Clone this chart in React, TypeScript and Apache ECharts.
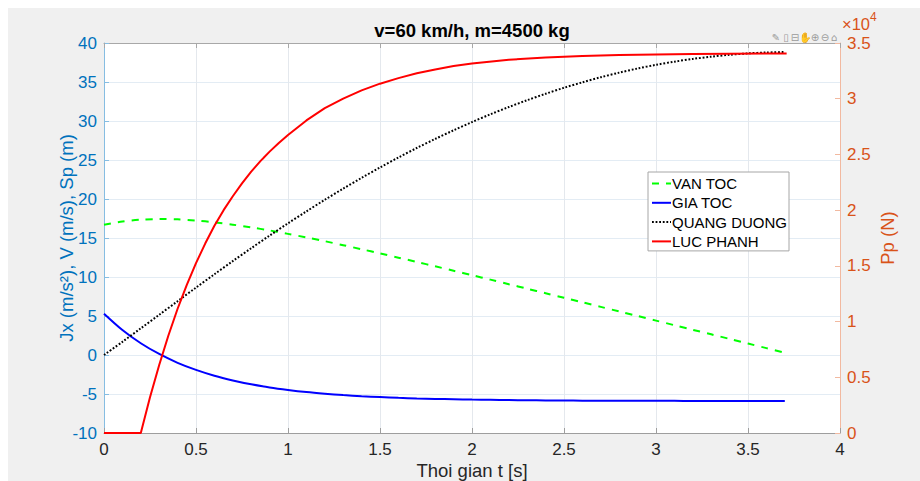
import React, { useEffect, useRef } from "react";
import * as echarts from "echarts";

// Time samples (s) for velocity, acceleration and distance
const T = [
  0, 0.1, 0.2, 0.3, 0.4, 0.5, 0.6, 0.7, 0.8, 0.9, 1.0, 1.1, 1.2, 1.3, 1.4, 1.5, 1.6, 1.7, 1.8, 1.9,
  2.0, 2.1, 2.2, 2.3, 2.4, 2.5, 2.6, 2.7, 2.8, 2.9, 3.0, 3.1, 3.2, 3.3, 3.4, 3.5, 3.6, 3.7,
];
// VAN TOC (m/s)
const V = [
  16.7, 17.12, 17.35, 17.43, 17.39, 17.24, 17.01, 16.71, 16.36, 15.97, 15.53, 15.07, 14.59, 14.08,
  13.56, 13.03, 12.48, 11.93, 11.37, 10.8, 10.23, 9.66, 9.08, 8.5, 7.92, 7.34, 6.76, 6.17, 5.58, 5.0,
  4.41, 3.82, 3.23, 2.65, 2.06, 1.47, 0.88, 0.29,
];
// GIA TOC (m/s^2)
const JX = [
  5.3, 3.21, 1.51, 0.13, -1.0, -1.91, -2.66, -3.26, -3.76, -4.16, -4.48, -4.75, -4.96, -5.14, -5.28,
  -5.39, -5.49, -5.57, -5.63, -5.68, -5.72, -5.75, -5.78, -5.8, -5.82, -5.84, -5.85, -5.86, -5.87,
  -5.87, -5.88, -5.88, -5.89, -5.89, -5.89, -5.9, -5.9, -5.9,
];
// QUANG DUONG (m)
const SP = [
  0, 1.69, 3.42, 5.16, 6.9, 8.64, 10.35, 12.04, 13.69, 15.31, 16.88, 18.41, 19.9, 21.33, 22.71, 24.04,
  25.32, 26.54, 27.7, 28.81, 29.86, 30.86, 31.79, 32.67, 33.49, 34.26, 34.96, 35.61, 36.2, 36.73, 37.2,
  37.61, 37.96, 38.25, 38.49, 38.67, 38.78, 38.84,
];
// LUC PHANH: its own time samples (s) and values (N)
const PT = [
  0, 0.2, 0.25, 0.3, 0.35, 0.4, 0.45, 0.5, 0.55, 0.6, 0.65, 0.7, 0.75, 0.8, 0.85, 0.9, 0.95, 1.0, 1.1,
  1.2, 1.3, 1.4, 1.5, 1.6, 1.7, 1.8, 1.9, 2.0, 2.2, 2.4, 2.6, 2.8, 3.0, 3.2, 3.4, 3.6, 3.71,
];
const PP = [
  0, 0, 3200, 6100, 8750, 11150, 13300, 15250, 17000, 18600, 20000, 21250, 22400, 23450, 24400, 25250,
  26030, 26750, 28050, 29150, 30000, 30750, 31350, 31850, 32280, 32630, 32930, 33170, 33500, 33700,
  33830, 33920, 33970, 34010, 34030, 34050, 34060,
];

const SERIES_NAMES = ["VAN TOC", "GIA TOC", "QUANG DUONG", "LUC PHANH"];
const TITLE = "v=60 km/h, m=4500 kg";
const X_NAME = "Thoi gian t [s]";
const Y_LEFT_NAME = "Jx (m/s²), V (m/s), Sp (m)";
const Y_RIGHT_NAME = "Pp (N)";

const FONT = '"Liberation Sans", Arial, Helvetica, sans-serif';
const BLUE_AX = "#0072BD";
const ORANGE_AX = "#D95319";

export default function App() {
  const ref = useRef<HTMLDivElement>(null);

  useEffect(() => {
    if (!ref.current) return;
    const chart = echarts.init(ref.current, undefined, { renderer: "svg" });
    const pair = (xs: number[], ys: number[]) => xs.map((t, i) => [t, ys[i]]);

    const icons = ["✎", "▯", "⊟", "✋", "⊕", "⊖", "⌂"];
    const iconX = [768, 778, 787, 797, 807, 817, 826];

    chart.setOption({
      animation: false,
      backgroundColor: "#f0f0f0",
      textStyle: { fontFamily: FONT },
      grid: {
        left: 96,
        top: 35,
        width: 736,
        height: 390,
        show: true,
        backgroundColor: "#ffffff",
        borderWidth: 0,
        outerBoundsMode: "none",
        containLabel: false,
      },
      legend: {
        data: SERIES_NAMES,
        orient: "vertical",
        left: 640,
        top: 164,
        itemWidth: 19,
        itemHeight: 10,
        itemGap: 4.3,
        padding: [4, 2, 2, 3],
        backgroundColor: "#ffffff",
        borderColor: "#a6a6a6",
        borderWidth: 1,
        borderRadius: 0,
        itemStyle: { opacity: 0 },
        textStyle: { fontSize: 15, color: "#000", fontFamily: FONT, padding: [0, 0, 0, -4] },
      },
      xAxis: [
        {
          type: "value",
          min: 0,
          max: 4,
          interval: 0.5,
          position: "bottom",
          name: X_NAME,
          nameLocation: "middle",
          nameGap: 28,
          nameMoveOverlap: false,
          nameTextStyle: { fontSize: 18.5, color: "#262626", fontFamily: FONT },
          axisLine: { show: true, onZero: false, lineStyle: { color: "#9e9e9e", width: 1 } },
          axisTick: { show: true, inside: true, length: 5, lineStyle: { color: "#9e9e9e" } },
          axisLabel: { color: "#262626", fontSize: 17, margin: 8, fontFamily: FONT },
          splitLine: { show: true, lineStyle: { color: "#e4e8ed", width: 1 } },
        },
        {
          type: "value",
          min: 0,
          max: 4,
          interval: 0.5,
          position: "top",
          axisLine: { show: true, onZero: false, lineStyle: { color: "#a8a8a8", width: 1 } },
          axisTick: { show: true, inside: true, length: 5, lineStyle: { color: "#a8a8a8" } },
          axisLabel: { show: false },
          splitLine: { show: false },
        },
      ],
      yAxis: [
        {
          type: "value",
          min: -10,
          max: 40,
          interval: 5,
          position: "left",
          name: Y_LEFT_NAME,
          nameLocation: "middle",
          nameGap: 28,
          nameRotate: 90,
          nameMoveOverlap: false,
          nameTextStyle: { fontSize: 18.5, color: BLUE_AX, fontFamily: FONT },
          axisLine: { show: true, onZero: false, lineStyle: { color: "#86bde2", width: 1 } },
          axisTick: { show: true, inside: true, length: 5, lineStyle: { color: "#86bde2" } },
          axisLabel: { color: BLUE_AX, fontSize: 17, margin: 7, fontFamily: FONT },
          splitLine: { show: true, lineStyle: { color: "#e3ecf4", width: 1 } },
        },
        {
          type: "value",
          min: 0,
          max: 35000,
          interval: 5000,
          position: "right",
          name: Y_RIGHT_NAME,
          nameLocation: "middle",
          nameGap: 38,
          nameRotate: 90,
          nameMoveOverlap: false,
          nameTextStyle: { fontSize: 18.5, color: ORANGE_AX, fontFamily: FONT },
          axisLine: { show: true, onZero: false, lineStyle: { color: "#f2b9a0", width: 1 } },
          axisTick: { show: true, inside: true, length: 5, lineStyle: { color: "#f2b9a0" } },
          axisLabel: {
            color: ORANGE_AX,
            fontSize: 17,
            margin: 7,
            fontFamily: FONT,
            formatter: (v: number) => String(v / 10000),
          },
          splitLine: { show: false },
        },
      ],
      series: [
        {
          name: SERIES_NAMES[0],
          type: "line",
          yAxisIndex: 0,
          data: pair(T, V),
          symbol: "none",
          smooth: 0.3,
          lineStyle: { color: "#00ff00", width: 2, type: [7, 7] },
          itemStyle: { color: "#00ff00" },
          z: 2,
        },
        {
          name: SERIES_NAMES[1],
          type: "line",
          yAxisIndex: 0,
          data: pair(T, JX),
          symbol: "none",
          smooth: 0.3,
          lineStyle: { color: "#0000ff", width: 2 },
          itemStyle: { color: "#0000ff" },
          z: 3,
        },
        {
          name: SERIES_NAMES[2],
          type: "line",
          yAxisIndex: 0,
          data: pair(T, SP),
          symbol: "none",
          smooth: 0.3,
          lineStyle: { color: "#000000", width: 2, type: [1.8, 1.8] },
          itemStyle: { color: "#000000" },
          z: 4,
        },
        {
          name: SERIES_NAMES[3],
          type: "line",
          yAxisIndex: 1,
          data: pair(PT, PP),
          symbol: "none",
          smooth: false,
          lineStyle: { color: "#ff0000", width: 2 },
          itemStyle: { color: "#ff0000" },
          z: 5,
        },
      ],
      graphic: [
        {
          type: "text",
          x: 464,
          y: 22,
          style: {
            text: TITLE,
            fontSize: 18.5,
            fontWeight: "bold",
            fontFamily: FONT,
            fill: "#000",
            align: "center",
            verticalAlign: "middle",
          },
        },
        {
          type: "text",
          x: 834,
          y: 16,
          style: {
            text: "×10",
            fontSize: 16.5,
            fontFamily: FONT,
            fill: ORANGE_AX,
            align: "left",
            verticalAlign: "middle",
          },
        },
        {
          type: "text",
          x: 862,
          y: 8.5,
          style: {
            text: "4",
            fontSize: 12,
            fontFamily: FONT,
            fill: ORANGE_AX,
            align: "left",
            verticalAlign: "middle",
          },
        },
        ...icons.map((g, i) => ({
          type: "text",
          x: iconX[i],
          y: 29.5,
          style: {
            text: g,
            fontSize: 10,
            fontFamily: '"DejaVu Sans", sans-serif',
            fill: "#9a9a9a",
            align: "center",
            verticalAlign: "middle",
          },
        })),
      ],
    });
    return () => chart.dispose();
  }, []);

  return (
    <div
      ref={ref}
      style={{
        position: "fixed",
        left: 8,
        top: 8,
        width: 912,
        height: 473,
        background: "#f0f0f0",
      }}
    />
  );
}
